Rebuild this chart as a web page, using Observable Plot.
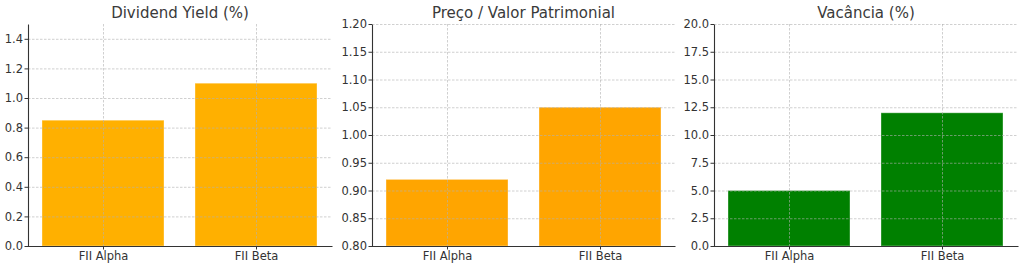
<!DOCTYPE html>
<html><head><meta charset="utf-8">
<script src="https://cdn.jsdelivr.net/npm/d3@7"></script>
<script src="https://cdn.jsdelivr.net/npm/@observablehq/plot@0.6"></script>
<style>
body{margin:0;background:#fff;}
#wrap{position:relative;width:1024px;height:268px;font-family:"DejaVu Sans",sans-serif;overflow:hidden;}
.panel{position:absolute;top:0;}
.title{position:absolute;top:6px;font-size:15px;line-height:15px;color:#3a3a3a;text-align:center;white-space:nowrap;}
</style></head><body><div id="wrap"></div><script>
const funds = ["FII Alpha", "FII Beta"];
const dividendYield = [0.85, 1.10];
const precoValorPatrimonial = [0.92, 1.05];
const vacancia = [5.0, 12.0];
const titles = ["Dividend Yield (%)", "Preço / Valor Patrimonial", "Vacância (%)"];
const dyTicks = [0.0, 0.2, 0.4, 0.6, 0.8, 1.0, 1.2, 1.4];
const pvpTicks = [0.80, 0.85, 0.90, 0.95, 1.00, 1.05, 1.10, 1.15, 1.20];
const vacTicks = [0.0, 2.5, 5.0, 7.5, 10.0, 12.5, 15.0, 17.5, 20.0];
const dyDomain = [0, 1.5];
const pvpDomain = [0.8, 1.2];
const vacDomain = [0, 20];

const panels = [
  {title: titles[0], values: dividendYield, ticks: dyTicks, domain: dyDomain, fmt: ".1f", color: "#FFB000", left: 0, width: 340, ml: 28, mr: 8},
  {title: titles[1], values: precoValorPatrimonial, ticks: pvpTicks, domain: pvpDomain, fmt: ".2f", color: "#FFA500", left: 340, width: 340, ml: 32, mr: 5},
  {title: titles[2], values: vacancia, ticks: vacTicks, domain: vacDomain, fmt: ".1f", color: "#008000", left: 680, width: 344, ml: 34, mr: 6}
];

const H = 268, mt = 24, mb = 22;
const wrap = document.getElementById("wrap");

for (const p of panels) {
  const data = funds.map((f, i) => ({fund: f, value: p.values[i]}));
  const fw = p.width - p.ml - p.mr, fh = H - mt - mb;
  const chart = Plot.plot({
    width: p.width, height: H,
    marginLeft: p.ml, marginRight: p.mr, marginTop: mt, marginBottom: mb,
    style: {fontFamily: "DejaVu Sans, sans-serif", fontSize: "11.5px", color: "#333", background: "#fff"},
    x: {type: "band", domain: funds, paddingInner: 0.2, paddingOuter: 0.09, label: null},
    y: {domain: p.domain, label: null},
    marks: [
      Plot.barY(data, {x: "fund", y1: p.domain[0], y2: "value", fill: p.color, stroke: "#fff", strokeOpacity: 0.35, strokeWidth: 1}),
      Plot.gridY(p.ticks, {stroke: "#b0b0b0", strokeOpacity: 0.6, strokeDasharray: "2.5,1.5"}),
      Plot.gridX({stroke: "#b0b0b0", strokeOpacity: 0.6, strokeDasharray: "2.5,1.5"}),
      Plot.axisY(p.ticks, {tickFormat: d3.format(p.fmt), tickSize: 3.5, tickPadding: 2, stroke: "#333", label: null}),
      Plot.axisX({tickSize: 3.5, tickPadding: 2, stroke: "#333", label: null}),
      Plot.frame({stroke: "#333", strokeWidth: 1.1, strokeDasharray: `0 ${fw + fh} ${fw + fh}`})
    ]
  });
  const div = document.createElement("div");
  div.className = "panel";
  div.style.left = p.left + "px";
  div.appendChild(chart);
  wrap.appendChild(div);
  const t = document.createElement("div");
  t.className = "title";
  t.style.left = (p.left + p.ml) + "px";
  t.style.width = fw + "px";
  t.textContent = p.title;
  wrap.appendChild(t);
}
</script></body></html>
